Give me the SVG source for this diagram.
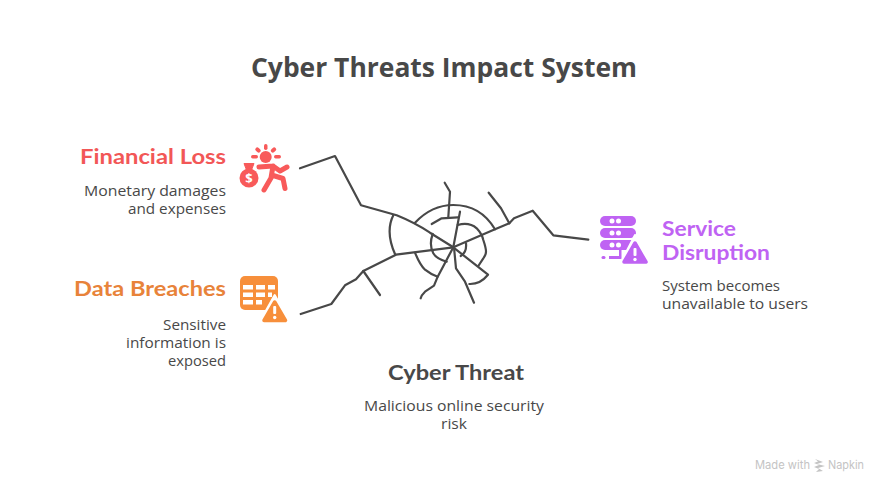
<svg xmlns="http://www.w3.org/2000/svg" width="888" height="492" viewBox="0 0 888 492">
<style>
text{font-family:"Open Sans","Noto Sans",sans-serif;fill:#484848}
.t{font-size:26px;font-weight:700}
.h{font-size:20px;font-weight:700;font-family:Lato,"Open Sans",sans-serif}
.b{font-size:14px}
.e{text-anchor:end}
.crack{fill:none;stroke:#484848;stroke-width:2.2;stroke-linejoin:round;stroke-linecap:round}
</style>
<rect width="888" height="492" fill="#fff"/>
<text id="title" class="t" x="251" y="77" textLength="386" lengthAdjust="spacingAndGlyphs">Cyber Threats Impact System</text>
<g id="connectors" class="crack">
<path d="M300 168.3L335 156L361 205.3L396.7 215.3Q415 222.700 430 232.700L453.300 247.300"/>
<path d="M300.700 314L331.300 304L345 285.300L356 279.300L363.300 271L396 254.700L453.300 247.300"/>
<path d="M363.300 271L380 295"/>
<path d="M393.300 215.300Q385 232 395.300 254.700"/>
<path d="M453.300 247.300L495 229.300L509.300 223.300L514 218.300L532.700 210.700L553.300 235.300L588.300 239.700"/>
<path d="M488.700 192.700L501 208.300L509.300 223.300"/>
<path d="M415 222.700C428 209 441 205 453.300 205C472 205 486 214 495 229.300"/>
<path d="M444.700 182.700L450 191.700L448.300 217.300"/>
<path d="M431.700 224L441.700 218.300L457.700 217.300"/>
<path d="M460 211.700L453.300 247.300"/>
<path d="M457.700 225C463 223.500 470 222.500 476.700 228.300C481 233 482.500 236 483.300 240C485 245 486 248 486 251.700C486 255 484 257 483.300 258.300L478.300 266"/>
<path d="M466 243.300C466.500 248 465.700 253 460.700 256"/>
<path d="M432.700 234C430.500 240 430 247 433.300 253.300C436 258 441 260 446.700 261.700"/>
<path d="M415 252.700C418 260 421 266 425 269.700C429 273 433 275 437.700 276.700"/>
<path d="M453.300 247.300L437.700 276.700L434 285.700L425 291.700Q421.500 295 420.700 298.300"/>
<path d="M454 247.300L456 268.300L465 281.700L474 302.700"/>
<path d="M453.300 247.300L488 274.700Q480 284.500 469.300 284"/>
</g>
<g id="financial-loss">
<g fill="#f85a5a">
<circle cx="265.700" cy="157" r="6"/>
<rect x="264" y="144" width="3.500" height="6" rx="1.700"/>
<rect x="256" y="147" width="4" height="6" rx="2" transform="rotate(-45 258 150)"/>
<rect x="271.500" y="147" width="4" height="6" rx="2" transform="rotate(45 273.500 150)"/>
<rect x="251" y="155" width="7" height="3.500" rx="1.700"/>
<rect x="274" y="155" width="7" height="3.500" rx="1.700"/>
<circle cx="249" cy="178" r="9.500"/>
<path d="M244 163.500H254L251.500 170H246.500Z" stroke="#f85a5a" stroke-linejoin="round"/>
</g>
<path d="M259 167L273 166L280 171L287 167M273 166L271 178L264 190M271.500 175L283 178.500L285 188.500" fill="none" stroke="#f85a5a" stroke-width="5" stroke-linecap="round" stroke-linejoin="round"/>
<text x="249" y="183" font-size="13" font-weight="700" text-anchor="middle" style="fill:#fff">$</text>
<text class="h e" x="226" y="164" textLength="146" lengthAdjust="spacingAndGlyphs" style="fill:#f25757">Financial Loss</text>
<text class="b e" x="226" y="196" textLength="142" lengthAdjust="spacingAndGlyphs">Monetary damages</text>
<text class="b e" x="226" y="214" textLength="98" lengthAdjust="spacingAndGlyphs">and expenses</text>
</g>
<g id="data-breaches">
<rect x="240" y="276" width="38" height="34" rx="5" fill="#f78f3b"/>
<g fill="#fff">
<rect x="243" y="285" width="10" height="4.500"/><rect x="256" y="285" width="9" height="4.500"/><rect x="268" y="285" width="7" height="4.500"/>
<rect x="243" y="292.500" width="10" height="4.500"/><rect x="256" y="292.500" width="9" height="4.500"/><rect x="268" y="292.500" width="4" height="4.500"/>
<rect x="243" y="300" width="10" height="4.500"/><rect x="256" y="300" width="6" height="4.500"/>
</g>
<path d="M274.700 295L291 324H258.500Z" fill="#fff" stroke="#fff" stroke-width="2" stroke-linejoin="round"/>
<path d="M274.700 302L285.500 320.500H264Z" fill="#f78f3b" stroke="#f78f3b" stroke-width="3.500" stroke-linejoin="round"/>
<rect x="273.200" y="306" width="3" height="8" rx="1" fill="#fff"/><circle cx="274.700" cy="317.500" r="1.700" fill="#fff"/>
<text class="h e" x="226" y="296" textLength="152" lengthAdjust="spacingAndGlyphs" style="fill:#e8833a">Data Breaches</text>
<text class="b e" x="226" y="330" textLength="63" lengthAdjust="spacingAndGlyphs">Sensitive</text>
<text class="b e" x="226" y="348" textLength="100" lengthAdjust="spacingAndGlyphs">information is</text>
<text class="b e" x="226" y="366" textLength="58" lengthAdjust="spacingAndGlyphs">exposed</text>
</g>
<g id="service-disruption">
<g fill="#bf63f3">
<rect x="600" y="216" width="36" height="10" rx="5"/>
<rect x="600" y="228" width="36" height="10" rx="5"/>
<rect x="600" y="240" width="36" height="10" rx="5"/>
<rect x="601.500" y="256" width="4" height="3" rx="1.500"/>
<path d="M609 256H619V249H621.500V259H609Z"/>
<path d="M635 235L651 266H619Z" fill="#fff" stroke="#fff" stroke-width="2" stroke-linejoin="round"/>
<path d="M635 243L646 262H624Z" stroke="#bf63f3" stroke-width="3.500" stroke-linejoin="round"/>
</g>
<g fill="#fff">
<circle cx="612" cy="221" r="2.500"/><circle cx="618.500" cy="221" r="2.500"/>
<circle cx="612" cy="233" r="2.500"/><circle cx="618.500" cy="233" r="2.500"/>
<circle cx="612" cy="245" r="2.500"/><circle cx="618.500" cy="245" r="2.500"/>
<rect x="633.500" y="248" width="3" height="8" rx="1"/><circle cx="635" cy="259.500" r="1.700"/>
</g>
<text class="h" x="662" y="236" textLength="74" lengthAdjust="spacingAndGlyphs" style="fill:#bf63f3">Service</text>
<text class="h" x="662" y="260" textLength="108" lengthAdjust="spacingAndGlyphs" style="fill:#bf63f3">Disruption</text>
<text class="b" x="662" y="291" textLength="118" lengthAdjust="spacingAndGlyphs">System becomes</text>
<text class="b" x="662" y="309" textLength="146" lengthAdjust="spacingAndGlyphs">unavailable to users</text>
</g>
<g id="cyber-threat">
<text class="h" x="388" y="380" textLength="136" lengthAdjust="spacingAndGlyphs">Cyber Threat</text>
<text class="b" x="364" y="411" textLength="180" lengthAdjust="spacingAndGlyphs">Malicious online security</text>
<text class="b" x="441" y="429" textLength="26" lengthAdjust="spacingAndGlyphs">risk</text>
</g>
<g id="watermark">
<text x="755" y="469" font-size="11.500" textLength="55" lengthAdjust="spacingAndGlyphs" style="fill:#c4c4c4;font-family:Inter,sans-serif">Made with</text>
<path d="M815 459L823 462L817 464L825 466L818 468L823 471L816 472L819 469L814 467L819 465L814 463L818 461.500Z" fill="#c4c4c4"/>
<text x="828" y="469" font-size="11.500" textLength="36" lengthAdjust="spacingAndGlyphs" style="fill:#c4c4c4;font-family:Inter,sans-serif">Napkin</text>
</g>
</svg>
